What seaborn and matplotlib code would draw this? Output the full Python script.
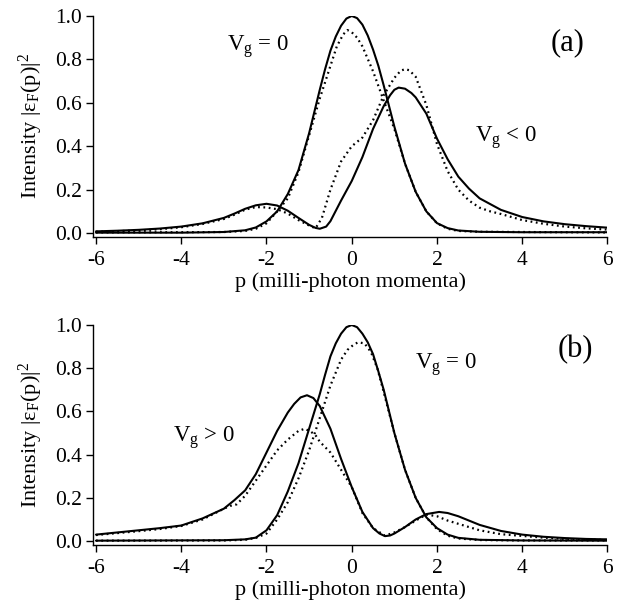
import matplotlib
matplotlib.use("Agg")
import matplotlib.pyplot as plt
import seaborn as sns
import pandas as pd

# ---------------- data: panel (a) ----------------
p_a_s0 = [-6, -4, -3, -2.5, -2.25, -2.0, -1.75, -1.5, -1.25, -1.0, -0.75, -0.625, -0.5, -0.375, -0.25,
          -0.125, 0, 0.125, 0.25, 0.375, 0.5, 0.625, 0.75, 1.0, 1.25, 1.5, 1.75, 2.0, 2.25, 2.5, 3.0,
          4.0, 6.0]
v_a_s0 = [0.002, 0.002, 0.005, 0.013, 0.026, 0.054, 0.10, 0.18, 0.29, 0.46, 0.66, 0.755, 0.84, 0.905, 0.955,
          0.988, 1.0, 0.99, 0.96, 0.91, 0.845, 0.77, 0.68, 0.49, 0.32, 0.19, 0.10, 0.046, 0.023, 0.012,
          0.006, 0.004, 0.004]

p_a_sneg = [-6, -5.5, -5, -4.5, -4, -3.5, -3, -2.75, -2.5, -2.25, -2.0, -1.75, -1.5, -1.25, -1.0, -0.85,
            -0.75, -0.6, -0.5, -0.25, 0, 0.25, 0.5, 0.75, 0.9, 1.0, 1.1, 1.25, 1.4, 1.5, 1.75, 2.0, 2.25,
            2.5, 2.75, 3.0, 3.5, 4.0, 4.5, 5.0, 5.5, 6.0]
v_a_sneg = [0.008, 0.011, 0.015, 0.021, 0.03, 0.045, 0.07, 0.09, 0.112, 0.128, 0.135, 0.127, 0.103, 0.07,
            0.038, 0.024, 0.02, 0.03, 0.055, 0.15, 0.24, 0.35, 0.48, 0.585, 0.635, 0.66, 0.67, 0.665,
            0.645, 0.625, 0.55, 0.435, 0.34, 0.26, 0.205, 0.16, 0.107, 0.074, 0.054, 0.041, 0.032, 0.025]

p_a_d0 = [-6, -4, -3, -2.5, -2.25, -2.0, -1.75, -1.5, -1.25, -1.0, -0.75, -0.5, -0.35, -0.2, -0.1, 0,
          0.125, 0.25, 0.5, 0.75, 1.0, 1.25, 1.5, 1.75, 2.0, 2.25, 2.5, 3.0, 4.0, 5.0, 6.0]
v_a_d0 = [0.003, 0.004, 0.005, 0.01, 0.02, 0.045, 0.10, 0.16, 0.28, 0.45, 0.62, 0.77, 0.86, 0.915, 0.935,
          0.925, 0.9, 0.86, 0.745, 0.61, 0.48, 0.32, 0.19, 0.10, 0.045, 0.02, 0.01, 0.006, 0.005, 0.004,
          0.003]

p_a_dneg = [-6, -5.5, -5, -4.5, -4, -3.5, -3, -2.75, -2.5, -2.25, -2.0, -1.75, -1.5, -1.25, -1.0, -0.85,
            -0.7, -0.5, -0.25, 0, 0.25, 0.5, 0.75, 1.0, 1.15, 1.25, 1.35, 1.5, 1.75, 2.0, 2.25, 2.5,
            2.75, 3.0, 3.25, 3.5, 4.0, 4.5, 5.0, 5.5, 6.0]
v_a_dneg = [0.006, 0.009, 0.012, 0.018, 0.027, 0.042, 0.065, 0.085, 0.108, 0.12, 0.118, 0.11, 0.09, 0.06,
            0.035, 0.022, 0.07, 0.20, 0.33, 0.40, 0.44, 0.52, 0.635, 0.715, 0.748, 0.755, 0.75, 0.72,
            0.59, 0.41, 0.285, 0.20, 0.15, 0.117, 0.10, 0.088, 0.06, 0.043, 0.03, 0.022, 0.016]

# ---------------- data: panel (b) ----------------
p_b_s0 = [-6, -3, -2.5, -2.25, -2.0, -1.75, -1.5, -1.25, -1.0, -0.75, -0.625, -0.5, -0.375, -0.25,
          -0.125, 0, 0.125, 0.25, 0.375, 0.5, 0.625, 0.75, 1.0, 1.25, 1.5, 1.75, 2.0, 2.25, 2.5, 3.0,
          4.0, 6.0]
v_b_s0 = [0.002, 0.004, 0.008, 0.016, 0.05, 0.12, 0.23, 0.36, 0.52, 0.68, 0.77, 0.855, 0.915, 0.96,
          0.99, 1.0, 0.99, 0.96, 0.92, 0.865, 0.785, 0.70, 0.50, 0.33, 0.20, 0.11, 0.06, 0.03, 0.015,
          0.006, 0.003, 0.002]

p_b_spos = [-6, -5.5, -5, -4.5, -4, -3.5, -3, -2.75, -2.5, -2.25, -2.0, -1.75, -1.5, -1.35, -1.2, -1.05,
            -0.9, -0.75, -0.5, -0.25, 0, 0.25, 0.5, 0.65, 0.78, 0.9, 1.0, 1.25, 1.5, 1.75, 2.05, 2.25,
            2.5, 2.75, 3.0, 3.5, 4.0, 4.5, 5.0, 5.5, 6.0]
v_b_spos = [0.03, 0.04, 0.05, 0.06, 0.072, 0.105, 0.15, 0.19, 0.235, 0.31, 0.41, 0.51, 0.595, 0.635,
            0.665, 0.675, 0.662, 0.625, 0.52, 0.38, 0.25, 0.135, 0.06, 0.035, 0.023, 0.026, 0.035, 0.065,
            0.10, 0.125, 0.135, 0.13, 0.115, 0.095, 0.075, 0.047, 0.03, 0.02, 0.014, 0.01, 0.008]

p_b_d0 = [-6, -3, -2.5, -2.25, -2.0, -1.75, -1.5, -1.25, -1.0, -0.75, -0.5, -0.25, -0.1, 0.05, 0.15, 0.3,
          0.45, 0.6, 0.75, 1.0, 1.25, 1.5, 1.75, 2.0, 2.25, 2.5, 3.0, 4.0, 6.0]
v_b_d0 = [0.002, 0.003, 0.006, 0.015, 0.035, 0.10, 0.18, 0.29, 0.42, 0.57, 0.72, 0.84, 0.885, 0.91, 0.92,
          0.915, 0.875, 0.80, 0.69, 0.50, 0.33, 0.20, 0.11, 0.055, 0.025, 0.012, 0.005, 0.003, 0.003]

p_b_dpos = [-6, -5, -4.5, -4, -3.5, -3, -2.85, -2.7, -2.5, -2.25, -2.0, -1.75, -1.5, -1.25, -1.1, -0.95,
            -0.85, -0.75, -0.5, -0.25, 0, 0.25, 0.5, 0.78, 1.0, 1.25, 1.5, 1.75, 2.0, 2.25, 2.5, 2.75,
            3.0, 3.5, 4.0, 4.5, 5.0, 6.0]
v_b_dpos = [0.028, 0.046, 0.056, 0.07, 0.10, 0.15, 0.163, 0.17, 0.21, 0.28, 0.35, 0.42, 0.47, 0.51, 0.52,
            0.505, 0.49, 0.46, 0.41, 0.33, 0.25, 0.13, 0.06, 0.025, 0.04, 0.065, 0.095, 0.123, 0.115,
            0.095, 0.08, 0.065, 0.05, 0.032, 0.024, 0.016, 0.01, 0.005]

x_ticks = [-6, -4, -2, 0, 2, 4, 6]
y_ticks = [0.0, 0.2, 0.4, 0.6, 0.8, 1.0]
x_label = "p (milli-photon momenta)"
y_label = "Intensity |ε$_\\mathrm{F}$(p)|$^2$"

# ---------------- style ----------------
sns.set_style("ticks")
plt.rcParams["font.family"] = ["Liberation Serif", "DejaVu Serif"]
plt.rcParams["mathtext.fontset"] = "custom"
plt.rcParams["mathtext.rm"] = "Liberation Serif"
plt.rcParams["mathtext.it"] = "Liberation Serif:italic"
plt.rcParams["mathtext.bf"] = "Liberation Serif:bold"
for k in ["text.color", "axes.labelcolor", "xtick.color", "ytick.color", "axes.edgecolor"]:
    plt.rcParams[k] = "black"

fig = plt.figure(figsize=(6.18, 6.04), dpi=100)
ax_a = fig.add_axes([0.1505, 0.6076, 0.8325, 0.366])
ax_b = fig.add_axes([0.1505, 0.0977, 0.8325, 0.3642])

solid_kw = dict(color="black", linewidth=1.5, estimator=None, sort=False)
dot_kw = dict(color="black", linewidth=1.6, estimator=None, sort=False, linestyle=(0, (0.8, 1.6)))


def curve(ax, p, v, kw):
    df = pd.DataFrame({"p": p, "v": v})
    sns.lineplot(data=df, x="p", y="v", ax=ax, **kw)


curve(ax_a, p_a_s0, v_a_s0, solid_kw)
curve(ax_a, p_a_sneg, v_a_sneg, solid_kw)
curve(ax_a, p_a_d0, v_a_d0, dot_kw)
curve(ax_a, p_a_dneg, v_a_dneg, dot_kw)

curve(ax_b, p_b_s0, v_b_s0, solid_kw)
curve(ax_b, p_b_spos, v_b_spos, solid_kw)
curve(ax_b, p_b_d0, v_b_d0, dot_kw)
curve(ax_b, p_b_dpos, v_b_dpos, dot_kw)

for ax in (ax_a, ax_b):
    ax.set_xlim(-6.07, 6.0)
    ax.set_ylim(-0.018, 1.0)
    ax.set_xticks(x_ticks)
    ax.set_xticklabels([str(t) for t in x_ticks])
    ax.set_yticks(y_ticks)
    ax.set_yticklabels([f"{t:.1f}" for t in y_ticks])
    ax.tick_params(direction="out", length=5, width=1, labelsize=15.5, colors="black")
    ax.tick_params(axis="x", pad=5)
    ax.tick_params(axis="y", pad=3)
    sns.despine(ax=ax)
    for s in ("left", "bottom"):
        ax.spines[s].set_linewidth(1.0)
        ax.spines[s].set_color("black")
    ax.set_xlabel(x_label, fontsize=16, labelpad=2)
    ax.set_ylabel(y_label, fontsize=16, labelpad=7)

# annotations
ax_a.text(-2.93, 0.86, "$\\mathrm{V_g}$ = 0", fontsize=16.5, ha="left", va="center")
ax_a.text(2.9, 0.44, "$\\mathrm{V_g}$ < 0", fontsize=16.5, ha="left", va="center")
ax_a.text(4.67, 0.875, "(a)", fontsize=22, ha="left", va="center")

ax_b.text(1.49, 0.815, "$\\mathrm{V_g}$ = 0", fontsize=16.5, ha="left", va="center")
ax_b.text(-4.2, 0.48, "$\\mathrm{V_g}$ > 0", fontsize=16.5, ha="left", va="center")
ax_b.text(4.83, 0.885, "(b)", fontsize=22, ha="left", va="center")

fig.savefig("out.png", dpi=100, facecolor="white")
